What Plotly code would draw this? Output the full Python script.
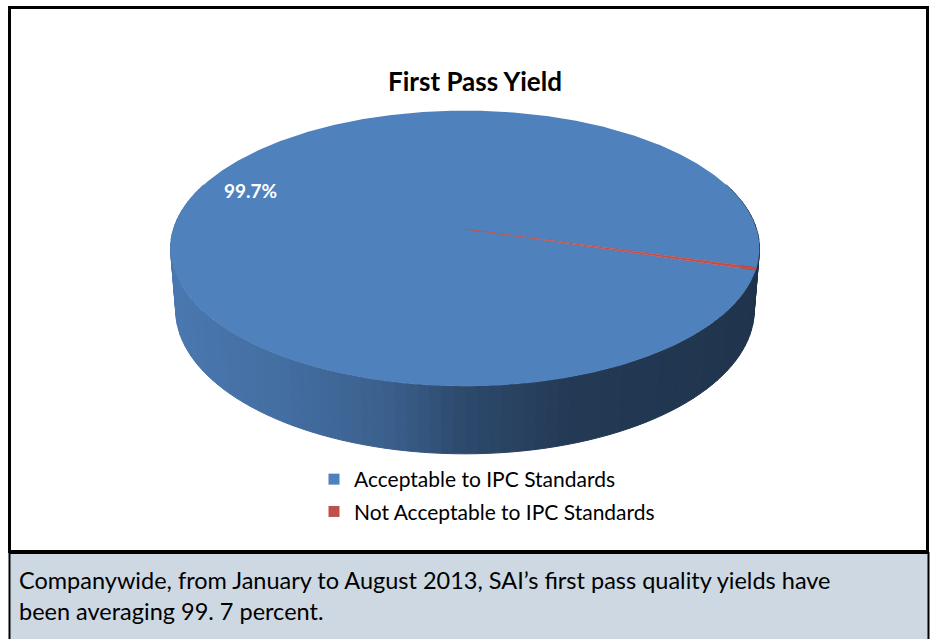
import numpy as np
import plotly.graph_objects as go

# ---------------- data ----------------
labels = ["Acceptable to IPC Standards", "Not Acceptable to IPC Standards"]
values = [99.7, 0.3]
colors = ["#4F81BD", "#C0504D"]
title_text = "First Pass Yield"
caption_lines = [
    "Companywide, from January to August 2013, SAI\u2019s first pass quality yields have",
    "been averaging 99. 7 percent.",
]

# ---------------- style / geometry ----------------
W, H = 933, 639
FONT = "Lato, 'Open Sans', sans-serif"
ROT = 107.0            # angle of first slice (deg, clockwise from back)
CX, CY = 465.0, 229.0  # screen position of pie centre (top face)
SCALE = 1835.0
TILT = np.radians(27.6)
DIST = 6.295
THICK = 0.2404
cT, sT = np.cos(TILT), np.sin(TILT)


def project(u, v, z):
    depth = DIST - v * cT - z * sT
    sx = CX + SCALE * u / depth
    sy = CY + SCALE * (v * sT - z * cT) / depth
    return sx, sy


def rim(beta_deg, z):
    b = np.radians(beta_deg)
    return project(np.sin(b), -np.cos(b), z)


def hex_to_rgb(h):
    h = h.lstrip("#")
    return np.array([int(h[i:i + 2], 16) for i in (0, 2, 4)], dtype=float)


def shade(hexcol, f):
    r, g, b = np.clip(hex_to_rgb(hexcol) * f, 0, 255).astype(int)
    return f"rgb({r},{g},{b})"


total = float(sum(values))
fracs = [v / total for v in values]
starts, ends = [], []
acc = ROT
for fr in fracs:
    starts.append(acc)
    acc += fr * 360.0
    ends.append(acc)


def slice_of(beta):
    bb = (beta - ROT) % 360.0 + ROT
    for i, (a, e) in enumerate(zip(starts, ends)):
        if a <= bb <= e:
            return i
    return 0


fig = go.Figure()

# ---- side wall, drawn back to front ----
step = 2.0
segs = []
for b0 in np.arange(0.0, 360.0, step):
    b1 = b0 + step
    bm = (b0 + b1) / 2
    vmid = -np.cos(np.radians(bm))
    if vmid < -0.35:
        continue
    segs.append((DIST - vmid * cT, b0, b1, bm))
segs.sort(key=lambda s: -s[0])
for _, b0, b1, bm in segs:
    nx = np.sin(np.radians(bm))
    f = np.interp(nx, [-1, -0.56, -0.22, 0, 0.33, 1], [0.94, 0.86, 0.74, 0.57, 0.45, 0.40])
    col = shade(colors[slice_of(bm)], f)
    bs = np.linspace(b0, b1, 4)
    tx, ty = rim(bs, 0.0)
    bx, by = rim(bs[::-1], -THICK)
    xs = np.concatenate([tx, bx, tx[:1]])
    ys = np.concatenate([ty, by, ty[:1]])
    fig.add_trace(go.Scatter(x=xs, y=ys, mode="lines", fill="toself", fillcolor=col,
                             line=dict(color=col, width=1), hoverinfo="skip", showlegend=False))

# ---- top face wedges ----
for i, (a, e) in enumerate(zip(starts, ends)):
    n = max(3, int((e - a) / 0.5) + 2)
    bs = np.linspace(a, e, n)
    ax, ay = rim(bs, 0.0)
    cx0, cy0 = project(0.0, 0.0, 0.0)
    xs = np.concatenate([[cx0], ax, [cx0]])
    ys = np.concatenate([[cy0], ay, [cy0]])
    fig.add_trace(go.Scatter(x=xs, y=ys, mode="lines", fill="toself", fillcolor=colors[i],
                             line=dict(color=colors[i], width=0.6 if i else 0),
                             hoverinfo="skip", showlegend=False))

# ---- legend entries ----
for i, lab in enumerate(labels):
    fig.add_trace(go.Scatter(x=[None], y=[None], mode="markers", name=lab,
                             legendgroup=f"g{i}",
                             marker=dict(symbol="square", size=11, color=colors[i]),
                             showlegend=True))

# ---- frames ----
shapes = [
    dict(type="rect", xref="x", yref="y", x0=9.5, y0=7.5, x1=927.5, y1=551.5,
         line=dict(color="black", width=3), fillcolor="white", layer="below"),
    dict(type="rect", xref="x", yref="y", x0=9.5, y0=553, x1=928.5, y1=650,
         line=dict(color="black", width=2), fillcolor="#CDD8E3", layer="below"),
]

annotations = [
    dict(x=250, y=190, xref="x", yref="y", text=f"{values[0] / total * 100:.1f}%",
         showarrow=False, font=dict(family=FONT, size=19, color="white", weight="bold")),
]
for k, line in enumerate(caption_lines):
    annotations.append(dict(x=17, y=580 + 31 * k, xref="x", yref="y", text=line,
                            xanchor="left", yanchor="middle", showarrow=False,
                            font=dict(family=FONT, size=23.5, color="black")))

fig.update_layout(
    width=W, height=H,
    margin=dict(l=0, r=0, t=0, b=0),
    paper_bgcolor="white", plot_bgcolor="rgba(0,0,0,0)",
    xaxis=dict(range=[0, W], visible=False, fixedrange=True),
    yaxis=dict(range=[H, 0], visible=False, fixedrange=True),
    title=dict(text=title_text, x=475 / W, y=1 - 82 / H, xref="paper", yref="paper",
               xanchor="center", yanchor="middle",
               font=dict(family=FONT, size=26, color="black", weight="bold")),
    legend=dict(x=314 / W, y=1 - 459 / H, xanchor="left", yanchor="top",
                font=dict(family=FONT, size=21, color="black"),
                bgcolor="rgba(0,0,0,0)", itemwidth=30, tracegroupgap=2,
                itemclick=False, itemdoubleclick=False),
    shapes=shapes,
    annotations=annotations,
    showlegend=True,
)

fig.write_html("out.html", config={"displayModeBar": False},
               post_script="document.body.style.margin='0';document.body.style.overflow='hidden';")
